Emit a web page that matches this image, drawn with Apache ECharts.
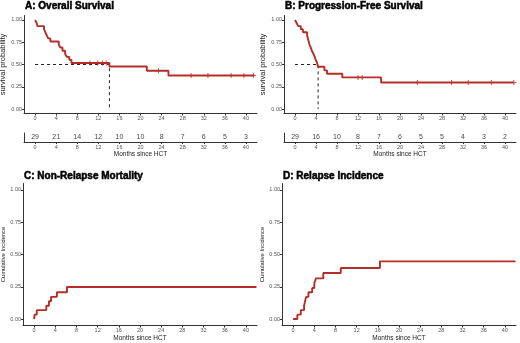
<!DOCTYPE html>
<html>
<head>
<meta charset="utf-8">
<script src="https://cdn.jsdelivr.net/npm/echarts@6/dist/echarts.min.js"></script>
<style>
html, body { margin: 0; padding: 0; background: #fff; }
#chart { width: 520px; height: 343px; }
</style>
</head>
<body>
<div id="chart"></div>
<script>
// values
var monthTicks = [0, 4, 8, 12, 16, 20, 24, 28, 32, 36, 40];
var probTicks = [0, 0.25, 0.5, 0.75, 1];

// A: overall survival
var osTimes = [0, 0.3, 0.45, 1.7, 1.95, 2.2, 2.5, 2.9, 4.5, 4.8, 5.2, 5.7, 6.0, 6.5, 6.9, 14.1, 21.2, 25.3, 41.6];
var osSurv = [1, 0.966, 0.931, 0.897, 0.862, 0.828, 0.793, 0.759, 0.724, 0.690, 0.655, 0.621, 0.586, 0.552, 0.517, 0.477, 0.430, 0.376, 0.376];
var osCensor = [10.4, 11.9, 12.8, 13.5, 23.4, 29.6, 32.8, 37.2, 39.6, 41.4];
var osAtRisk = [29, 21, 14, 12, 10, 10, 8, 7, 6, 5, 3];
var osMedian = 14.1;

// B: progression-free survival
var pfsTimes = [0, 0.3, 0.6, 1.1, 1.5, 2.3, 2.45, 2.6, 2.75, 3.0, 3.2, 3.5, 3.75, 3.95, 4.2, 4.4, 5.6, 6.1, 9.0, 16.4, 41.7];
var pfsSurv = [1, 0.966, 0.931, 0.897, 0.862, 0.828, 0.793, 0.759, 0.724, 0.690, 0.655, 0.621, 0.586, 0.552, 0.517, 0.475, 0.434, 0.397, 0.355, 0.298, 0.298];
var pfsCensor = [12.0, 12.8, 23.3, 29.8, 33.0, 37.4, 41.7];
var pfsAtRisk = [29, 16, 10, 8, 7, 6, 5, 5, 4, 3, 2];
var pfsMedian = 4.4;

// C: non-relapse mortality
var nrmTimes = [0, 0.1, 0.5, 2.3, 2.8, 3.2, 4.3, 6.2, 42];
var nrmInc = [0, 0.034, 0.069, 0.103, 0.138, 0.172, 0.207, 0.248, 0.248];

// D: relapse incidence
var relTimes = [0, 0.8, 1.45, 2.07, 2.26, 2.45, 2.9, 3.6, 4.0, 4.3, 5.7, 9.0, 16.4, 42];
var relInc = [0, 0.034, 0.069, 0.103, 0.138, 0.172, 0.207, 0.241, 0.276, 0.315, 0.357, 0.395, 0.447, 0.447];

var RED = '#b32e26';
var AXIS = '#333';
var LBL = '#555';
var FONT = 'Liberation Sans';

function zip(xs, ys) { return xs.map(function (x, i) { return [x, ys[i]]; }); }
// value of a step curve at time t
function stepAt(xs, ys, t) {
    var v = ys[0];
    for (var i = 0; i < xs.length; i++) { if (xs[i] <= t) v = ys[i]; }
    return v;
}

var chart = echarts.init(document.getElementById('chart'));

function xAx(grid, opts) {
    var a = {
        type: 'value', gridIndex: grid, min: -2.1, max: 42.1,
        splitLine: { show: false },
        axisLine: { onZero: false, lineStyle: { color: AXIS, width: 1 } },
        axisTick: { customValues: monthTicks, length: 2, lineStyle: { color: AXIS } },
        axisLabel: { customValues: monthTicks, fontSize: 5.5, color: LBL, fontFamily: FONT, margin: 2 }
    };
    return Object.assign(a, opts || {});
}
function yAx(grid, name, gap, size) {
    return {
        type: 'value', gridIndex: grid, min: -0.05, max: 1.05,
        name: name, nameLocation: 'middle', nameGap: gap,
        nameTextStyle: { fontSize: size, color: '#222', fontFamily: FONT },
        splitLine: { show: false },
        axisLine: { onZero: false, lineStyle: { color: AXIS, width: 1 } },
        axisTick: { customValues: probTicks, length: 2, lineStyle: { color: AXIS } },
        axisLabel: {
            customValues: probTicks, fontSize: 5.5, color: LBL, fontFamily: FONT, margin: 2,
            formatter: function (v) { return v.toFixed(2); }
        }
    };
}
function riskY(grid) {
    return {
        type: 'value', gridIndex: grid, min: 0, max: 1,
        splitLine: { show: false },
        axisLine: { onZero: false, lineStyle: { color: AXIS, width: 1 } },
        axisTick: { show: false }, axisLabel: { show: false }
    };
}
var monthsName = { name: 'Months since HCT', nameLocation: 'middle', nameGap: 8,
    nameTextStyle: { fontSize: 6.5, color: '#222', fontFamily: FONT } };

function curve(ax, xs, ys) {
    return { type: 'line', xAxisIndex: ax, yAxisIndex: ax, step: 'end', showSymbol: false,
        data: zip(xs, ys), lineStyle: { color: RED, width: 1.9 }, silent: true, z: 3 };
}
function censor(ax, xs, ys, ct) {
    return { type: 'scatter', xAxisIndex: ax, yAxisIndex: ax, silent: true, z: 4,
        symbol: 'path://M4,0H6V10H4Z M0,4H10V6H0Z', symbolSize: 5,
        itemStyle: { color: RED },
        data: ct.map(function (t) { return [t, stepAt(xs, ys, t)]; }) };
}
function median(ax, m) {
    return { type: 'line', xAxisIndex: ax, yAxisIndex: ax, showSymbol: false, silent: true, z: 2,
        data: [[0, 0.5], [m, 0.5], [m, 0]], lineStyle: { color: '#222', width: 1, type: [3, 3] } };
}
function risk(ax, nums) {
    return { type: 'scatter', xAxisIndex: ax, yAxisIndex: ax, symbolSize: 0, silent: true,
        data: monthTicks.map(function (t, i) { return [t, 0.5, nums[i]]; }),
        label: { show: true, position: 'inside', fontSize: 7, color: '#111', fontFamily: FONT,
            formatter: function (p) { return String(p.value[2]); } } };
}
function ttl(text, left, top) {
    return { text: text, left: left, top: top, padding: 0,
        textStyle: { fontSize: 10, fontWeight: 'bolder', color: '#000', fontFamily: FONT,
            textBorderColor: '#000', textBorderWidth: 0.5 } };
}

var option = {
    animation: false,
    backgroundColor: '#fff',
    title: [
        ttl('A: Overall Survival', 25, 1),
        ttl('B: Progression-Free Survival', 285, 1),
        ttl('C: Non-Relapse Mortality', 24, 171),
        ttl('D: Relapse Incidence', 283, 171)
    ],
    grid: [
        { left: 24, top: 15.5, width: 233, height: 98, outerBoundsMode: 'none' },
        { left: 24, top: 133, width: 233, height: 9, outerBoundsMode: 'none' },
        { left: 284, top: 15.5, width: 232, height: 98, outerBoundsMode: 'none' },
        { left: 284, top: 133, width: 232, height: 9, outerBoundsMode: 'none' },
        { left: 23, top: 183.5, width: 234, height: 142, outerBoundsMode: 'none' },
        { left: 282, top: 183.5, width: 234, height: 142, outerBoundsMode: 'none' }
    ],
    xAxis: [
        xAx(0), xAx(1, monthsName), xAx(2), xAx(3, monthsName),
        xAx(4, monthsName), xAx(5, monthsName)
    ],
    yAxis: [
        yAx(0, 'survival probability', 13, 7.5), riskY(1),
        yAx(2, 'survival probability', 13, 7.5), riskY(3),
        yAx(4, 'Cumulative Incidence', 14, 5.8), yAx(5, 'Cumulative Incidence', 14, 5.8)
    ],
    series: [
        median(0, osMedian), curve(0, osTimes, osSurv), censor(0, osTimes, osSurv, osCensor),
        risk(1, osAtRisk),
        median(2, pfsMedian), curve(2, pfsTimes, pfsSurv), censor(2, pfsTimes, pfsSurv, pfsCensor),
        risk(3, pfsAtRisk),
        curve(4, nrmTimes, nrmInc),
        curve(5, relTimes, relInc)
    ]
};
chart.setOption(option);
</script>
</body>
</html>
